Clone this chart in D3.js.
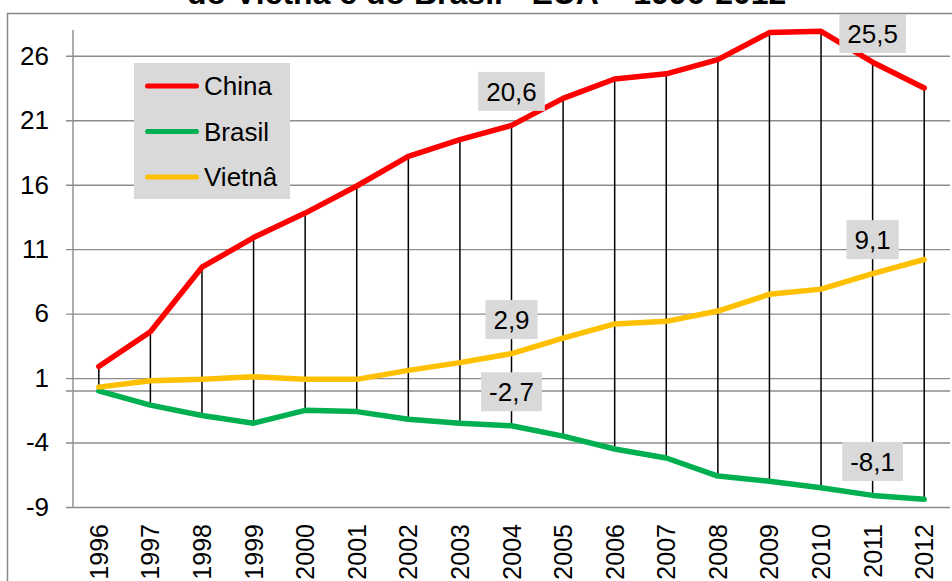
<!DOCTYPE html>
<html>
<head>
<meta charset="utf-8">
<script src="https://cdn.jsdelivr.net/npm/d3@7"></script>
<style>
  html, body { margin: 0; padding: 0; background: #fff; }
  svg { display: block; font-family: "Liberation Sans", Arial, sans-serif; }
</style>
</head>
<body>
<svg id="chart" width="952" height="581"></svg>
<script>
// Saldo comercial com os EUA (US$ bilhões), 1996-2012
const years = ["1996","1997","1998","1999","2000","2001","2002","2003","2004",
               "2005","2006","2007","2008","2009","2010","2011","2012"];
const china  = [1.9, 4.6, 9.6, 11.9, 13.8, 15.9, 18.2, 19.5, 20.6, 22.7, 24.2, 24.6, 25.7, 27.8, 27.9, 25.5, 23.5];
const brasil = [0.0, -1.1, -1.9, -2.5, -1.5, -1.6, -2.2, -2.5, -2.7, -3.5, -4.5, -5.2, -6.6, -7.0, -7.5, -8.1, -8.4];
const vietna = [0.3, 0.8, 0.9, 1.1, 0.9, 0.9, 1.6, 2.2, 2.9, 4.1, 5.2, 5.4, 6.2, 7.5, 7.9, 9.1, 10.2];
const yTicks = [-9, -4, 1, 6, 11, 16, 21, 26];
const labelledYears = ["2004", "2011"];
const titleText = "do Vietnã e do Brasil - EUA – 1996-2012";

const series = [
  { name: "China",  values: china,  color: "#ff0000" },
  { name: "Brasil", values: brasil, color: "#00b050" },
  { name: "Vietnâ", values: vietna, color: "#ffc000" }
];

// pt-BR number formatting with a plain hyphen as minus sign
const locale = d3.formatLocale({
  decimal: ",", thousands: ".", grouping: [3], currency: ["R$", ""], minus: "-"
});

const svg = d3.select("#chart");
const plot = { left: 73, right: 950, top: 30, bottom: 507 };

const x = d3.scaleBand().domain(years).range([plot.left, plot.right]);
const cx = d => x(d) + x.bandwidth() / 2;
const y = d3.scaleLinear().domain([-9, 28]).range([plot.bottom, plot.top]);

// chart area frame
svg.append("rect")
  .attr("x", 7.5).attr("y", 13.5)
  .attr("width", 1000).attr("height", 700)
  .attr("fill", "#fff").attr("stroke", "#868686").attr("stroke-width", 1.5);

// title (second line)
svg.append("text")
  .attr("x", 187).attr("y", 4)
  .attr("font-size", 32).attr("font-weight", "bold")
  .attr("fill", "#000")
  .text(titleText);

// horizontal gridlines + y axis labels
const yAxis = d3.axisLeft(y).tickValues(yTicks)
  .tickSize(-(plot.right - plot.left + 7)).tickPadding(17)
  .tickFormat(locale.format("d"));
const gy = svg.append("g").attr("transform", `translate(${plot.left - 7},0)`).call(yAxis);
gy.select(".domain").remove();
gy.selectAll(".tick line").attr("stroke", "#8c8c8c").attr("stroke-width", 1.4);
gy.selectAll(".tick text").attr("font-size", 26).attr("fill", "#000")
  .attr("font-family", "Liberation Sans, Arial, sans-serif");

// zero line (horizontal axis crossing)
svg.append("line")
  .attr("x1", plot.left - 7).attr("x2", plot.right)
  .attr("y1", y(0)).attr("y2", y(0))
  .attr("stroke", "#8c8c8c").attr("stroke-width", 1.4);

// vertical axis line
svg.append("line")
  .attr("x1", plot.left).attr("x2", plot.left)
  .attr("y1", plot.top).attr("y2", plot.bottom)
  .attr("stroke", "#8c8c8c").attr("stroke-width", 1.4);

// x axis labels (rotated, below plot)
const xAxis = d3.axisBottom(x).tickSize(0).tickPadding(0);
const gx = svg.append("g").attr("transform", `translate(0,${plot.bottom})`).call(xAxis);
gx.select(".domain").remove();
gx.selectAll(".tick text")
  .attr("font-size", 25).attr("fill", "#000")
  .attr("font-family", "Liberation Sans, Arial, sans-serif")
  .attr("transform", "rotate(-90)")
  .attr("text-anchor", "end")
  .attr("x", -17).attr("y", 0).attr("dy", "0.36em");

// high-low lines
svg.append("g").selectAll("line")
  .data(years)
  .join("line")
  .attr("x1", d => cx(d)).attr("x2", d => cx(d))
  .attr("y1", (d, i) => y(d3.max(series, s => s.values[i])))
  .attr("y2", (d, i) => y(d3.min(series, s => s.values[i])))
  .attr("stroke", "#000").attr("stroke-width", 1.5);

// series lines
const line = d3.line().x((v, i) => cx(years[i])).y(v => y(v));
svg.append("g").selectAll("path")
  .data(series)
  .join("path")
  .attr("d", s => line(s.values))
  .attr("fill", "none")
  .attr("stroke", s => s.color)
  .attr("stroke-width", 5.5)
  .attr("stroke-linejoin", "round")
  .attr("stroke-linecap", "round");

// value labels
const fmt = locale.format(".1f");
const labels = [];
series.forEach(s => labelledYears.forEach(yr => {
  const i = years.indexOf(yr);
  labels.push({ year: yr, value: s.values[i] });
}));
const lg = svg.append("g").selectAll("g").data(labels).join("g");
lg.each(function(d) {
  const g = d3.select(this);
  const t = g.append("text")
    .attr("font-size", 26).attr("fill", "#000")
    .attr("text-anchor", "middle")
    .text(fmt(d.value));
  const w = t.node().getComputedTextLength() + 16;
  const h = 39;
  let cy = y(d.value) - 34;
  if (cy - h / 2 < 14) cy = 14 + h / 2;
  const xc = cx(d.year);
  g.insert("rect", "text")
    .attr("x", xc - w / 2).attr("y", cy - h / 2)
    .attr("width", w).attr("height", h)
    .attr("fill", "#d9d9d9");
  t.attr("x", xc).attr("y", cy).attr("dy", "0.36em");
});

// legend
const legend = svg.append("g");
legend.append("rect")
  .attr("x", 134).attr("y", 63)
  .attr("width", 156).attr("height", 136)
  .attr("fill", "#d9d9d9");
const li = legend.selectAll("g.item").data(series).join("g")
  .attr("class", "item")
  .attr("transform", (d, i) => `translate(0,${86 + i * 45.5})`);
li.append("line")
  .attr("x1", 147.5).attr("x2", 196.5)
  .attr("stroke", d => d.color).attr("stroke-width", 5)
  .attr("stroke-linecap", "round");
li.append("text")
  .attr("x", 204).attr("dy", "0.35em")
  .attr("font-size", 26).attr("fill", "#000")
  .text(d => d.name);
</script>
</body>
</html>
